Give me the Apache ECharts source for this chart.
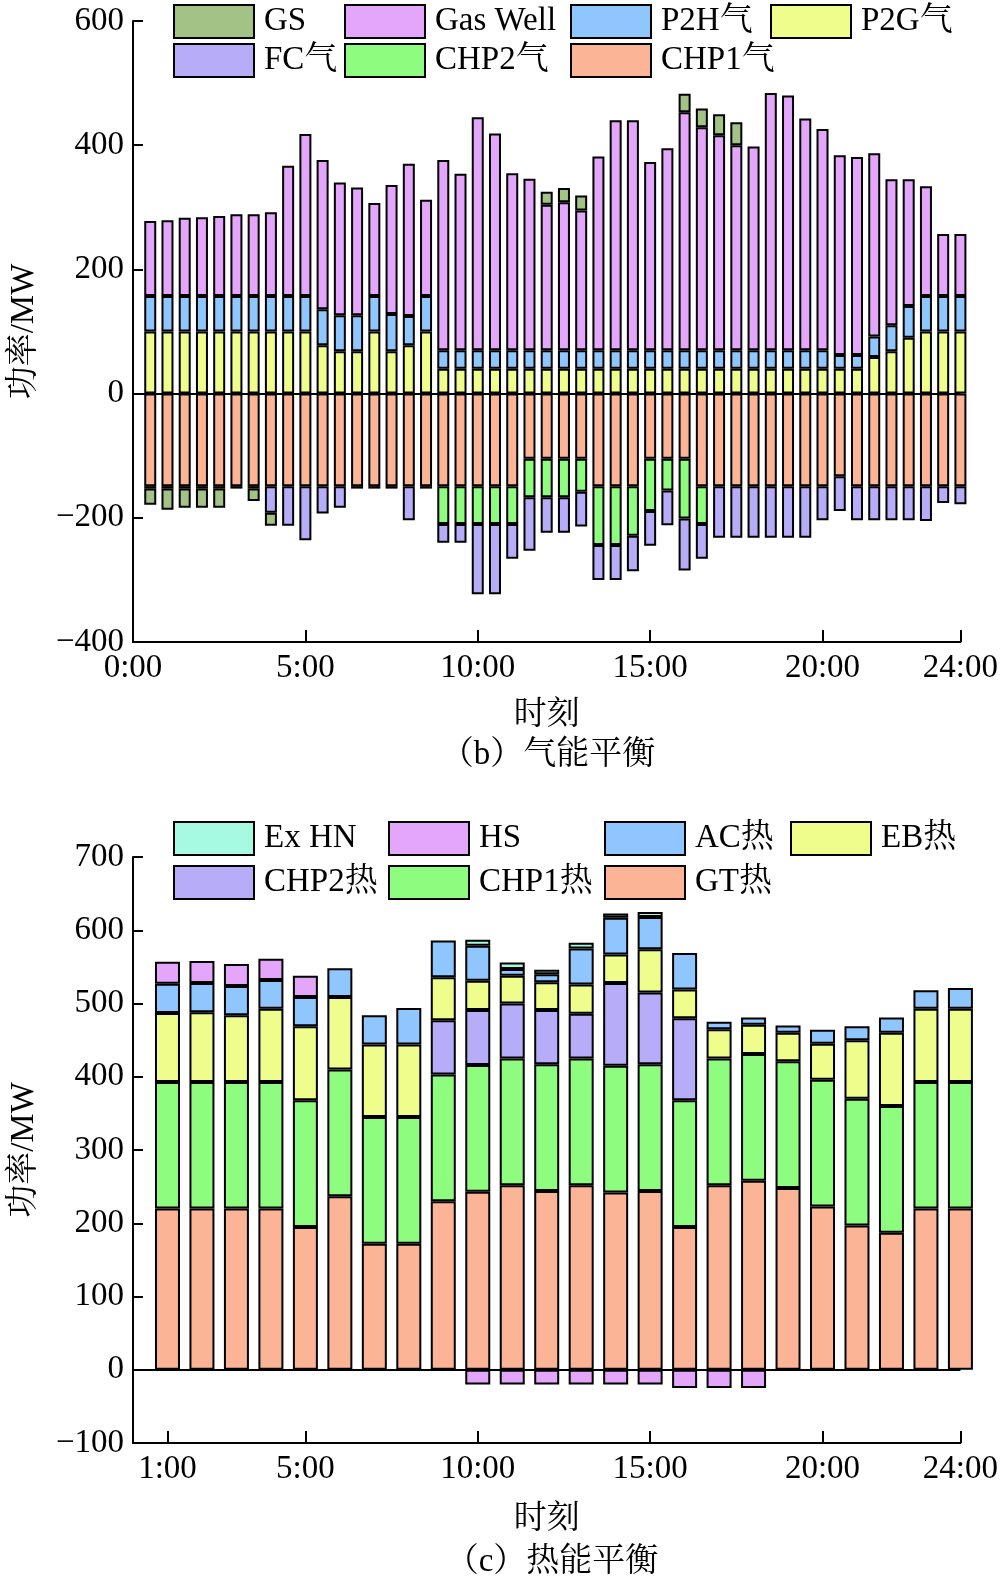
<!DOCTYPE html>
<html>
<head>
<meta charset="utf-8">
<script src="https://cdn.jsdelivr.net/npm/echarts@6/dist/echarts.min.js"></script>
<style>
html, body { margin: 0; padding: 0; background: #fff; }
#chart { width: 1001px; height: 1577px; }
</style>
</head>
<body>
<div id="chart"></div>
<script>
// (b) gas balance: slots every half hour, bars sit on 0:30 ... 24:00
const gasSlots = ['0:00', '0:30', '1:00', '1:30', '2:00', '2:30', '3:00', '3:30', '4:00', '4:30',
    '5:00', '5:30', '6:00', '6:30', '7:00', '7:30', '8:00', '8:30', '9:00', '9:30',
    '10:00', '10:30', '11:00', '11:30', '12:00', '12:30', '13:00', '13:30', '14:00', '14:30',
    '15:00', '15:30', '16:00', '16:30', '17:00', '17:30', '18:00', '18:30', '19:00', '19:30',
    '20:00', '20:30', '21:00', '21:30', '22:00', '22:30', '23:00', '23:30', '24:00'];
const gasTickLabels = ['0:00', '5:00', '10:00', '15:00', '20:00', '24:00'];

const gsGas = [-26, -34, -31, -31, -31, 0, -20, -21, 0, 0, 0, 0, 0, 0, 0, 0,
    0, 0, 0, 0, 0, 0, 0, 21, 23, 24, 0, 0, 0, 0, 0, 30,
    30, 34, 37, 0, 0, 0, 0, 0, 0, 0, 0, 0, 0, 0, 0, 0];
const gasWell = [121, 122, 126, 127, 129, 132, 132, 135, 210, 261, 240, 214, 206, 150, 208, 245,
    155, 306, 284, 375, 349, 285, 276, 234, 238, 225, 312, 370, 370, 303, 325, 383,
    359, 346, 330, 328, 414, 410, 373, 356, 322, 319, 295, 235, 204, 177, 100, 100];
const p2hGas = [57, 57, 57, 57, 57, 57, 57, 57, 57, 57, 58, 58, 58, 57, 60, 47,
    57, 30, 30, 30, 30, 30, 30, 30, 30, 30, 30, 30, 30, 30, 30, 30,
    30, 30, 30, 30, 30, 30, 30, 30, 22, 22, 33, 42, 51, 57, 57, 57];
const p2gGas = [100, 100, 100, 100, 100, 100, 100, 100, 100, 100, 78, 68, 68, 100, 68, 78,
    100, 40, 40, 40, 40, 40, 40, 40, 40, 40, 40, 40, 40, 40, 40, 40,
    40, 40, 40, 40, 40, 40, 40, 40, 40, 40, 59, 68, 90, 100, 100, 100];
const fcGas = [-4, -4, -4, -4, -4, -4, -4, -43, -64, -87, -44, -35, -4, -4, -4, -55,
    -4, -30, -30, -113, -113, -56, -86, -57, -57, -56, -56, -56, -57, -56, -56, -84,
    -56, -83, -83, -83, -83, -83, -83, -55, -56, -55, -55, -55, -55, -56, -27, -29];
const chp2Gas = [0, 0, 0, 0, 0, 0, 0, 0, 0, 0, 0, 0, 0, 0, 0, 0,
    0, -61, -61, -61, -61, -61, -62, -62, -62, -53, -95, -95, -80, -84, -51, -96,
    -61, 0, 0, 0, 0, 0, 0, 0, 0, 0, 0, 0, 0, 0, 0, 0];
const chp1Gas = [-149, -149, -149, -149, -149, -149, -149, -149, -149, -149, -149, -149, -149, -149, -149, -149,
    -149, -149, -149, -149, -149, -149, -105, -105, -105, -105, -149, -149, -149, -105, -105, -105,
    -149, -149, -149, -149, -149, -149, -149, -149, -133, -149, -149, -149, -149, -149, -149, -149];

// (c) heat balance: hourly, bars sit on 1:00 ... 24:00
const heatSlots = ['0:00', '1:00', '2:00', '3:00', '4:00', '5:00', '6:00', '7:00', '8:00', '9:00',
    '10:00', '11:00', '12:00', '13:00', '14:00', '15:00', '16:00', '17:00', '18:00', '19:00',
    '20:00', '21:00', '22:00', '23:00', '24:00'];
const heatTickLabels = ['1:00', '5:00', '10:00', '15:00', '20:00', '24:00'];

const gtHeat = [220, 220, 220, 220, 195, 237, 172, 172, 230, 243, 252, 244, 252, 242, 244, 195, 252, 258, 248, 223, 197, 187, 220, 220];
const chp1Heat = [173, 173, 173, 173, 173, 173, 173, 173, 173, 173, 173, 173, 173, 173, 173, 173, 173, 173, 173, 173, 173, 173, 173, 173];
const chp2Heat = [0, 0, 0, 0, 0, 0, 0, 0, 74, 75, 75, 74, 61, 113, 98, 112, 0, 0, 0, 0, 0, 0, 0, 0];
const ebHeat = [94, 95, 91, 100, 101, 99, 99, 99, 59, 40, 38, 38, 40, 39, 59, 39, 40, 40, 39, 49, 80, 100, 100, 100];
const acHeat = [40, 40, 40, 39, 40, 39, 40, 50, 50, 48, 9, 11, 49, 50, 44, 50, 10, 10, 10, 19, 19, 21, 25, 28];
const hsHeat = [30, 30, 30, 29, 29, 0, 0, 0, 0, -20, -20, -20, -20, -20, -20, -25, -25, -25, 0, 0, 0, 0, 0, 0];
const exHeat = [0, 0, 0, 0, 0, 0, 0, 0, 0, 8, 9, 6, 8, 6, 7, 0, 0, 0, 0, 0, 0, 0, 0, 0];

const FONT = "'Liberation Serif', 'Noto Serif CJK SC', 'Noto Sans CJK SC', serif";
const FS = 33;

const C = {
    olive: '#a2c286',
    pink: '#e3a6fb',
    blue: '#8fc6fd',
    yellow: '#effd8d',
    lavender: '#b7acf8',
    green: '#8efd7f',
    salmon: '#fbb496',
    mint: '#a6fae1',
};

const chart = echarts.init(document.getElementById('chart'), null, { renderer: 'canvas' });

// first slot (0:00) carries no bar; zeros are left out so they draw no border
function bars(name, color, values, idx, width) {
    return {
        name,
        type: 'bar',
        stack: 'stack' + idx,
        xAxisIndex: idx,
        yAxisIndex: idx,
        barWidth: width,
        clip: false,
        itemStyle: { color, borderColor: '#000', borderWidth: 2 },
        data: [null].concat(values.map((v) => (v === 0 ? null : v))),
    };
}

function zeroLine() {
    return {
        silent: true,
        symbol: 'none',
        label: { show: false },
        lineStyle: { color: '#000', width: 2, type: 'solid' },
        data: [{ yAxis: 0 }],
    };
}

function xAxis(idx, slots, shown, gap) {
    const pick = (i) => shown.includes(slots[i]);
    return {
        type: 'category',
        gridIndex: idx,
        data: slots,
        boundaryGap: false,
        name: '时刻',
        nameLocation: 'middle',
        nameGap: gap,
        nameTextStyle: { fontFamily: FONT, fontSize: FS, color: '#000' },
        axisLine: { show: true, onZero: false, lineStyle: { color: '#000', width: 2 } },
        axisTick: { show: true, inside: true, length: 12, interval: pick, lineStyle: { color: '#000', width: 2 } },
        axisLabel: {
            interval: pick,
            fontFamily: FONT, fontSize: FS, color: '#000', margin: 10,
        },
        splitLine: { show: false },
    };
}

function yAxis(idx, min, max, interval) {
    return {
        type: 'value',
        gridIndex: idx,
        min, max, interval,
        name: '功率/MW',
        nameLocation: 'middle',
        nameRotate: 90,
        nameGap: 92,
        nameTextStyle: { fontFamily: FONT, fontSize: FS, color: '#000' },
        axisLine: { show: true, onZero: false, lineStyle: { color: '#000', width: 2 } },
        axisTick: { show: true, inside: true, length: 10, lineStyle: { color: '#000', width: 2 } },
        axisLabel: {
            fontFamily: FONT, fontSize: FS, color: '#000', margin: 9,
            formatter: (v) => String(v).replace('-', '\u2212'),
        },
        splitLine: { show: false },
    };
}

function legendCol(left, top, gap, names) {
    return {
        orient: 'vertical',
        left, top,
        padding: 0,
        itemGap: gap,
        itemWidth: 80,
        itemHeight: 33,
        icon: 'rect',
        selectedMode: false,
        itemStyle: { borderColor: '#000', borderWidth: 2 },
        textStyle: { fontFamily: FONT, fontSize: FS, color: '#000', padding: [0, 0, 0, 5] },
        data: names,
    };
}

const gasSeries = [
    bars('CHP1气', C.salmon, chp1Gas, 0, 12),
    bars('CHP2气', C.green, chp2Gas, 0, 12),
    bars('FC气', C.lavender, fcGas, 0, 12),
    bars('P2G气', C.yellow, p2gGas, 0, 12),
    bars('P2H气', C.blue, p2hGas, 0, 12),
    bars('Gas Well', C.pink, gasWell, 0, 12),
    bars('GS', C.olive, gsGas, 0, 12),
];
gasSeries[0].markLine = zeroLine();

const heatSeries = [
    bars('GT热', C.salmon, gtHeat, 1, 25),
    bars('CHP1热', C.green, chp1Heat, 1, 25),
    bars('CHP2热', C.lavender, chp2Heat, 1, 25),
    bars('EB热', C.yellow, ebHeat, 1, 25),
    bars('AC热', C.blue, acHeat, 1, 25),
    bars('HS', C.pink, hsHeat, 1, 25),
    bars('Ex HN', C.mint, exHeat, 1, 25),
];
heatSeries[0].markLine = zeroLine();

chart.setOption({
    animation: false,
    backgroundColor: '#fff',
    grid: [
        { left: 132, right: 40, top: 21, height: 621 },
        { left: 132, right: 40, top: 857, height: 586 },
    ],
    xAxis: [xAxis(0, gasSlots, gasTickLabels, 57), xAxis(1, heatSlots, heatTickLabels, 60)],
    yAxis: [yAxis(0, -400, 600, 200), yAxis(1, -100, 700, 100)],
    legend: [
        legendCol(173, 4, 4, ['GS', 'FC气']),
        legendCol(344, 4, 4, ['Gas Well', 'CHP2气']),
        legendCol(570, 4, 4, ['P2H气', 'CHP1气']),
        legendCol(770, 4, 4, ['P2G气']),
        legendCol(173, 821, 9, ['Ex HN', 'CHP2热']),
        legendCol(388, 821, 9, ['HS', 'CHP1热']),
        legendCol(604, 821, 9, ['AC热', 'GT热']),
        legendCol(790, 821, 9, ['EB热']),
    ],
    graphic: [
        {
            type: 'text', x: 548, y: 755,
            style: { text: '（b）气能平衡', fontFamily: FONT, fontSize: FS, fill: '#000', align: 'center', verticalAlign: 'middle' },
        },
        {
            type: 'text', x: 552, y: 1562,
            style: { text: '（c）热能平衡', fontFamily: FONT, fontSize: FS, fill: '#000', align: 'center', verticalAlign: 'middle' },
        },
    ],
    series: [...gasSeries, ...heatSeries],
});
</script>
</body>
</html>
